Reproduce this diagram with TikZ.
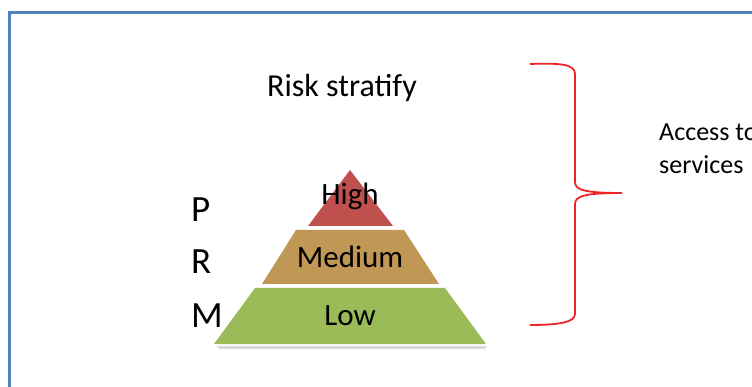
\documentclass[tikz,border=0pt]{standalone}
\usepackage{fontspec}
\setmainfont{Carlito}
\definecolor{frameblue}{RGB}{79,129,189}
\definecolor{highred}{RGB}{192,80,77}
\definecolor{medtan}{RGB}{192,151,84}
\definecolor{lowgreen}{RGB}{155,187,89}
\definecolor{bracered}{RGB}{238,36,36}
\begin{document}
\begin{tikzpicture}[x=1pt,y=-1pt,
  label/.style={inner sep=0pt,text=black},
  bandtext/.style={label,font=\fontsize{31}{36}\selectfont}]
\useasboundingbox (0,0) rectangle (752,387);
\draw[frameblue,line width=3pt] (9.5,387) -- (9.5,12.5) -- (752,12.5); % edit here for the frame
\node[label,font=\fontsize{32}{38}\selectfont] (risk) at (342,88) {Risk stratify};
% pyramid
\fill[gray!30] (217,346) -- (487,346) -- (485,349) -- (219,349) -- cycle;
\fill[highred] (350,170) -- (393,226) -- (308,226) -- cycle;
\fill[medtan] (296,230) -- (404,230) -- (439,284) -- (262,284) -- cycle;
\fill[lowgreen] (255,288) -- (445,288) -- (486,344) -- (214,344) -- cycle;
\node[bandtext] (high) at (350,196) {High};
\node[bandtext] (medium) at (350,257) {Medium};
\node[bandtext] (low) at (350,316) {Low};
\foreach \y/\t in {222/P,274/R,327/M} % edit here for the letters
\node[label,anchor=base west,font=\fontsize{37}{44}\selectfont] (\t) at (191,\y) {\t};
% brace
\draw[bracered,line width=1.8pt] (530,64) .. controls (560,63) and (575,64) .. (575,74) -- (575,182)
  .. controls (575,190) and (585,193) .. (622,193) .. controls (585,193) and (575,196) .. (575,204)
  -- (575,314) .. controls (575,322) and (560,325) .. (530,325);
\node[label,anchor=base west,font=\fontsize{26}{31}\selectfont] (access) at (659,141) {Access to};
\node[label,anchor=base west,font=\fontsize{26}{31}\selectfont] (services) at (659,174) {services};
\end{tikzpicture}
\end{document}
